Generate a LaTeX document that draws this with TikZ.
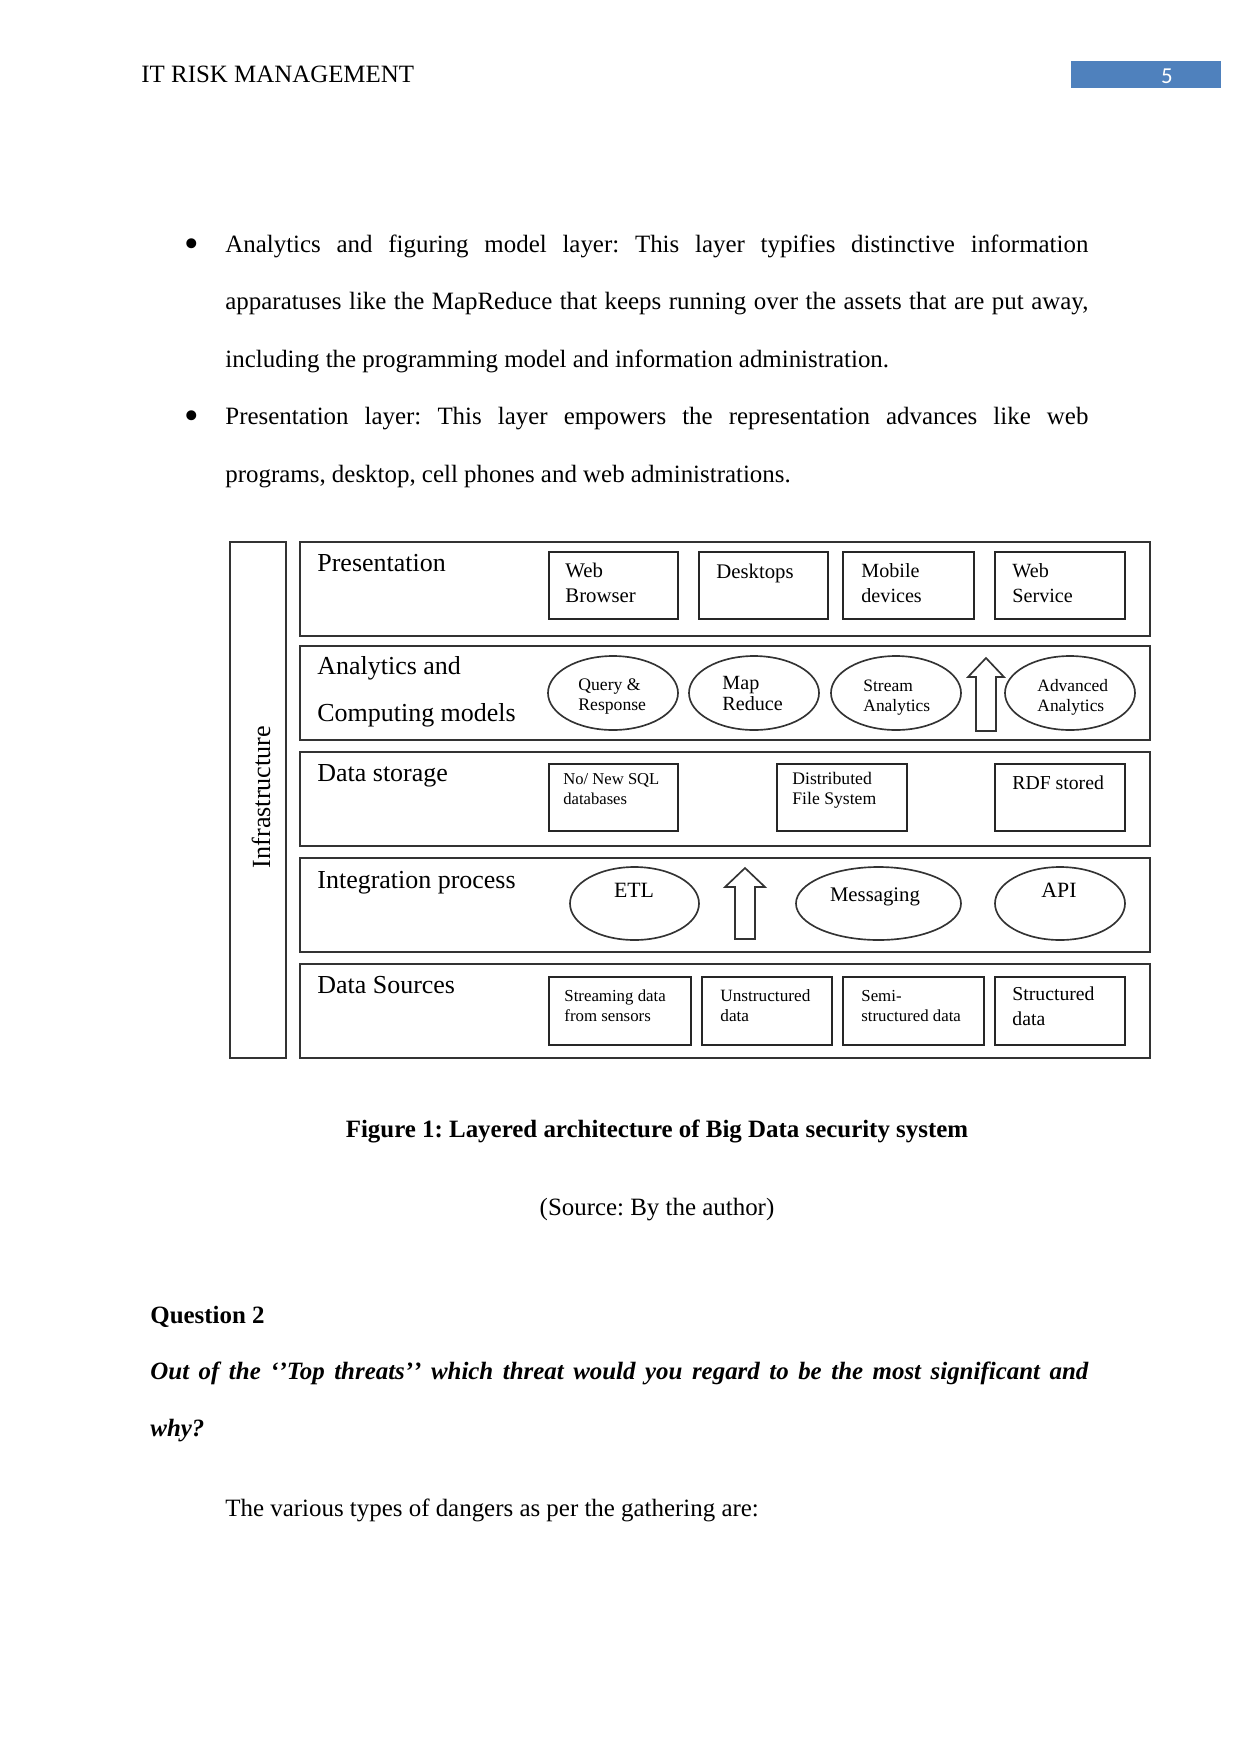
\documentclass[tikz,border=0pt]{standalone}
\usepackage{fontspec}
\setmainfont{Liberation Serif}
\newfontfamily\numfont{Carlito}
\usepackage{tikz}
\usetikzlibrary{fit,shapes.geometric,positioning}
\definecolor{hdrblue}{RGB}{79,129,189}
\newcommand{\pxu}{0.4816pt}
\frenchspacing

\begin{document}
\begin{tikzpicture}[x=0.4816pt, y=-0.4816pt,
    layer/.style={draw=black!80, line width=1pt, inner sep=0pt},
    item/.style={draw=black!85, line width=0.9pt, inner sep=0pt},
    oval/.style={ellipse, draw=black!80, line width=0.8pt, inner sep=0pt, minimum width=130*\pxu, minimum height=74*\pxu},
    title/.style={anchor=base west, inner sep=0pt, font=\fontsize{12.5}{15}\selectfont},
    small/.style={anchor=base west, inner sep=0pt, align=left, font=\fontsize{8.3}{9.6}\selectfont},
    mid/.style={anchor=base west, inner sep=0pt, align=left, font=\fontsize{10}{11.6}\selectfont},
    body/.style={anchor=base west, inner sep=0pt, font=\fontsize{12}{14}\selectfont},
    uparrow/.style={draw=black!80, fill=white, line width=0.8pt, line join=miter}
]
\useasboundingbox (0,0) rectangle (1241,1754);

% page header
\node[body] (hdr) at (141,82) {IT RISK MANAGEMENT};
\node[fill=hdrblue, inner sep=0pt, fit={(1071,61) (1221,88)}] (pgbox) {};
\node[anchor=base, inner sep=0pt, text=white, font=\numfont\fontsize{11}{13}\selectfont] (pgnum) at (1167,83) {5};

% text above the figure
\node[body, anchor=center, font=\fontsize{20}{22}\selectfont] (bul1) at (192,248) {•};
\node[body] (p1a) at (225,252) {\makebox[415.6pt][s]{Analytics and figuring model layer: This layer typifies distinctive information}};
\node[body] (p1b) at (225,309.5) {\makebox[415.6pt][s]{apparatuses like the MapReduce that keeps running over the assets that are put away,}};
\node[body] (p1c) at (225,367) {including the programming model and information administration.};
\node[body, anchor=center, font=\fontsize{20}{22}\selectfont] (bul2) at (192,420) {•};
\node[body] (p2a) at (225,424.5) {\makebox[415.6pt][s]{Presentation layer: This layer empowers the representation advances like web}};
\node[body] (p2b) at (225,482) {programs, desktop, cell phones and web administrations.};

% infrastructure column and the five layers
\node[layer, fit={(230,542) (286,1058)}] (infra) {};
\node[anchor=center, rotate=90, inner sep=0pt, font=\fontsize{12.6}{14}\selectfont] (infra-t) at (261,797) {Infrastructure};

\node[layer, fit={(300,542) (1150,636)}] (pres) {};
\node[layer, fit={(300,646) (1150,740)}] (anly) {};
\node[layer, fit={(300,752) (1150,846)}] (stor) {};
\node[layer, fit={(300,858) (1150,952)}] (intg) {};
\node[layer, fit={(300,964) (1150,1058)}] (srcs) {};

\node[title] (pres-t) at (317,571) {Presentation};
\node[title] (anly-t1) at (317,674) {Analytics and};
\node[title] (anly-t2) at (317,721) {Computing models};
\node[title] (stor-t) at (317,781) {Data storage};
\node[title] (intg-t) at (317,888) {Integration process};
\node[title] (srcs-t) at (317,993) {Data Sources};

% presentation (base = last line)
\node[item, fit={(549,552) (678,619)}] (web) {};
\node[item, fit={(699,552) (828,619)}] (desk) {};
\node[item, fit={(843,552) (974,619)}] (mob) {};
\node[item, fit={(995,552) (1125,619)}] (wsvc) {};
\node[mid] (web-t) at (565,602) {Web\\Browser};
\node[mid] (desk-t) at (716,578) {Desktops};
\node[mid, font=\fontsize{9.7}{11.6}\selectfont] (mob-t) at (861,602) {Mobile\\devices};
\node[mid, font=\fontsize{9.7}{11.6}\selectfont] (wsvc-t) at (1012,602) {Web\\Service};

% analytics and computing models
\node[oval] (query) at (613,693) {};
\node[oval] (mapred) at (754,693) {};
\node[oval] (stream) at (896,693) {};
\node[oval] (adv) at (1070,693) {};
\node[small, font=\fontsize{8.5}{9.6}\selectfont] (query-t) at (578,710) {Query \&\\Response};
\node[small, font=\fontsize{9.7}{10}\selectfont] (mapred-t) at (722,710) {Map\\Reduce};
\node[small, font=\fontsize{8.4}{9.6}\selectfont] (stream-t) at (863,711) {Stream\\Analytics};
\node[small, font=\fontsize{8.4}{9.6}\selectfont] (adv-t) at (1037,711) {Advanced\\Analytics};
\draw[uparrow] (976,731) -- (976,677) -- (968,677) -- (986,658) -- (1004,677) -- (996,677) -- (996,731) -- cycle;

% data storage
\node[item, fit={(549,764) (678,831)}] (sql) {};
\node[item, fit={(777,764) (907,831)}] (dfs) {};
\node[item, fit={(995,764) (1125,831)}] (rdf) {};
\node[small, font=\fontsize{8}{9.6}\selectfont] (sql-t) at (563,804) {No/ New SQL\\databases};
\node[small, font=\fontsize{8.5}{9.6}\selectfont] (dfs-t) at (792,804) {Distributed\\File System};
\node[mid, font=\fontsize{9.5}{11}\selectfont] (rdf-t) at (1012,789) {RDF stored};

% integration process
\node[oval, minimum width=129*\pxu, minimum height=73*\pxu] (etl) at (634.5,903.5) {};
\node[oval, minimum width=165*\pxu, minimum height=73*\pxu] (msg) at (878.5,903.5) {};
\node[oval, minimum height=73*\pxu] (api) at (1060,903.5) {};
\node[mid, anchor=base, font=\fontsize{10.5}{12}\selectfont] (etl-t) at (634,897) {ETL};
\node[mid, anchor=base] (msg-t) at (875,901) {Messaging};
\node[mid, anchor=base, font=\fontsize{10.5}{12}\selectfont] (api-t) at (1059,897) {API};
\draw[uparrow] (735,939) -- (735,887) -- (725,887) -- (745,868) -- (765,887) -- (755,887) -- (755,939) -- cycle;

% data sources
\node[item, fit={(549,977) (691,1045)}] (strm) {};
\node[item, fit={(702,977) (832,1045)}] (unst) {};
\node[item, fit={(843,977) (984,1045)}] (semi) {};
\node[item, fit={(995,977) (1125,1045)}] (strc) {};
\node[small, font=\fontsize{8.1}{9.6}\selectfont] (strm-t) at (564,1021) {Streaming data\\from sensors};
\node[small] (unst-t) at (720,1021) {Unstructured\\data};
\node[small, font=\fontsize{8.1}{9.6}\selectfont] (semi-t) at (861,1021) {Semi-\\structured data};
\node[mid, font=\fontsize{9.5}{11.6}\selectfont] (strc-t) at (1012,1025) {Structured\\data};

% caption and text below the figure
\node[body, anchor=base, font=\bfseries\fontsize{12}{14}\selectfont] (cap) at (657,1137) {Figure 1: Layered architecture of Big Data security system};
\node[body, anchor=base] (src) at (657,1215) {(Source: By the author)};
\node[body, font=\bfseries\fontsize{12}{14}\selectfont] (q2) at (150,1323) {Question 2};
\node[body, font=\bfseries\itshape\fontsize{12}{14}\selectfont] (q2a) at (150,1379) {\makebox[451.7pt][s]{Out of the ‘’Top threats’\kern0pt’ which threat would you regard to be the most significant and}};
\node[body, font=\bfseries\itshape\fontsize{12}{14}\selectfont] (q2b) at (150,1436) {why?};
\node[body] (p3) at (225,1516) {The various types of dangers as per the gathering are:};
\end{tikzpicture}
\end{document}
